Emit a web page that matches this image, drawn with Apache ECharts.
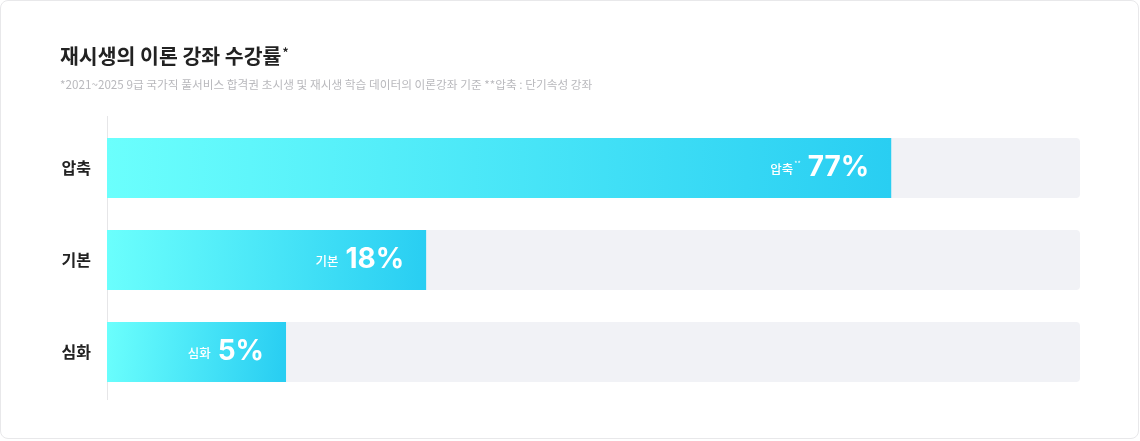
<!DOCTYPE html>
<html>
<head>
<meta charset="utf-8">
<script src="https://cdn.jsdelivr.net/npm/echarts@6/dist/echarts.min.js"></script>
<style>
  html, body { margin: 0; padding: 0; background: #ffffff; }
  #card { position: absolute; left: 0; top: 0; width: 1137px; height: 437px; border: 1px solid #e8e8ea; border-radius: 8px; background: #fff; }
  #chart { position: absolute; left: 0; top: 0; width: 1140px; height: 441px; }
</style>
</head>
<body>
<div id="card"></div>
<div id="chart"></div>
<script>
const categories = ['압축', '기본', '심화'];
const labelNames = ['압축', '기본', '심화'];
const labelMarks = ['**', '', ''];
const percentLabels = [77, 18, 5];
// bar lengths as drawn (share of the track, %)
const barLengths = [80.6, 32.8, 18.4];
const trackValues = [100, 100, 100];

const FONT = '"Noto Sans CJK KR", "Noto Sans", sans-serif';

const chart = echarts.init(document.getElementById('chart'), null, { renderer: 'canvas' });

chart.setOption({
  backgroundColor: 'transparent',
  animation: false,
  title: {
    left: 60,
    top: 46,
    padding: 0,
    text: '{t|재시생의 이론 강좌 수강률}{a|*}',
    textStyle: {
      rich: {
        t: { fontFamily: FONT, fontSize: 20.5, fontWeight: 'bold', color: '#222222' },
        a: { fontFamily: FONT, fontSize: 12, color: '#222222', padding: [0, 0, 9, 1] }
      }
    },
    subtext: '*2021~2025 9급 국가직 풀서비스 합격권 초시생 및 재시생 학습 데이터의 이론강좌 기준 **압축 : 단기속성 강좌',
    subtextStyle: { fontFamily: FONT, fontSize: 11.7, color: '#b9b9bd' },
    itemGap: 12
  },
  grid: { left: 107, right: 60, top: 122, bottom: 43, containLabel: false },
  xAxis: {
    type: 'value', min: 0, max: 100, show: false
  },
  yAxis: {
    type: 'category',
    data: categories,
    inverse: true,
    axisLine: { show: false },
    axisTick: { show: false },
    axisLabel: { fontFamily: FONT, fontSize: 16, fontWeight: 'bold', color: '#222222', margin: 16 }
  },
  graphic: [{
    type: 'line',
    shape: { x1: 107.5, y1: 116, x2: 107.5, y2: 400 },
    style: { stroke: '#e6e6e8', lineWidth: 1 },
    silent: true
  }],
  series: [
    {
      type: 'bar',
      data: trackValues,
      barWidth: 60,
      barGap: '-100%',
      silent: true,
      itemStyle: { color: '#f1f2f6', borderRadius: 4 },
      z: 1
    },
    {
      type: 'bar',
      data: barLengths,
      barWidth: 60,
      silent: true,
      itemStyle: {
        color: new echarts.graphic.LinearGradient(0, 0, 1, 0.3, [
          { offset: 0, color: '#6bfffd' },
          { offset: 1, color: '#29cef2' }
        ])
      },
      label: {
        show: true,
        position: 'insideRight',
        distance: 22,
        formatter: function (p) {
          const i = p.dataIndex;
          const mark = labelMarks[i] ? '{s|' + labelMarks[i] + '}' : '';
          return '{n|' + labelNames[i] + '}' + mark + '{v|' + percentLabels[i] + '%}';
        },
        rich: {
          n: { fontFamily: FONT, fontSize: 12.5, fontWeight: 500, color: '#ffffff', padding: [2, 0, 0, 0] },
          s: { fontFamily: FONT, fontSize: 7, color: '#ffffff', padding: [0, 0, 9, 1] },
          v: { fontFamily: 'Inter, "Noto Sans", sans-serif', fontSize: 28, fontWeight: 'bold', color: '#ffffff', padding: [0, 0, 0, 7] }
        }
      },
      z: 2
    }
  ]
});
</script>
</body>
</html>
